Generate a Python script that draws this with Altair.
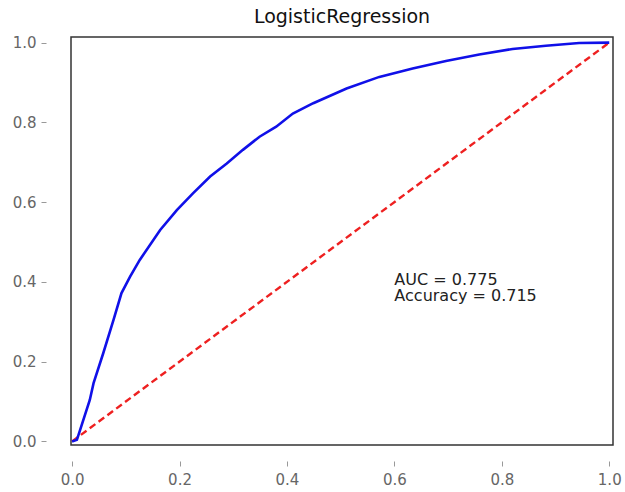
import altair as alt
import pandas as pd

# ROC curve points
fpr = [0, 0.009, 0.015, 0.033, 0.040, 0.058, 0.077, 0.092, 0.108, 0.126, 0.164,
       0.195, 0.225, 0.257, 0.288, 0.318, 0.349, 0.380, 0.411, 0.449, 0.511,
       0.572, 0.634, 0.696, 0.758, 0.820, 0.882, 0.944, 1.0]
tpr = [0, 0.004, 0.029, 0.104, 0.146, 0.221, 0.304, 0.372, 0.413, 0.455, 0.530,
       0.580, 0.622, 0.664, 0.697, 0.731, 0.764, 0.789, 0.822, 0.848, 0.885,
       0.914, 0.935, 0.954, 0.970, 0.984, 0.992, 0.999, 1.0]

diag_x = [0.0, 1.0]
diag_y = [0.0, 1.0]

ann_lines = ["AUC = 0.775", "Accuracy = 0.715"]
ann_x = [0.6]
ann_y = [0.392]

tick_vals = [0.0, 0.2, 0.4, 0.6, 0.8, 1.0]
title = "LogisticRegression"

FONT = "DejaVu Sans"

roc_df = pd.DataFrame({"fpr": fpr, "tpr": tpr, "i": list(range(len(fpr)))})
diag_df = pd.DataFrame({"fpr": diag_x, "tpr": diag_y, "i": [0, 1]})
ann_df = pd.DataFrame({"x": ann_x, "y": ann_y, "t": ["\n".join(ann_lines)]})

xscale = alt.Scale(domain=[-0.002, 1.007], nice=False, zero=False)
yscale = alt.Scale(domain=[-0.009, 1.014], nice=False, zero=False)

xaxis = alt.Axis(values=tick_vals, format=".1f", title=None, grid=False, domain=False,
                 offset=16, tickSize=5, tickColor="#999", tickWidth=1,
                 labelPadding=6, labelFontSize=15, labelColor="#666", labelFont=FONT)
yaxis = alt.Axis(values=tick_vals, format=".1f", title=None, grid=False, domain=False,
                 offset=25, tickSize=5, tickColor="#999", tickWidth=1,
                 labelPadding=5, labelFontSize=15, labelColor="#666", labelFont=FONT)

roc = alt.Chart(roc_df).mark_line(color="#1010e8", strokeWidth=2.6).encode(
    x=alt.X("fpr:Q", scale=xscale, axis=xaxis),
    y=alt.Y("tpr:Q", scale=yscale, axis=yaxis),
    order="i:Q",
)

diag = alt.Chart(diag_df).mark_line(color="#ee2020", strokeWidth=2.4, strokeDash=[7, 4]).encode(
    x=alt.X("fpr:Q", scale=xscale),
    y=alt.Y("tpr:Q", scale=yscale),
    order="i:Q",
)

ann = alt.Chart(ann_df).mark_text(align="left", baseline="alphabetic", font=FONT,
                                   fontSize=16, color="#222", lineBreak="\n",
                                   lineHeight=15.7).encode(
    x=alt.X("x:Q", scale=xscale),
    y=alt.Y("y:Q", scale=yscale),
    text="t:N",
)

chart = alt.layer(diag, roc, ann).properties(
    width=542,
    height=408,
    background="white",
    title=alt.TitleParams(title, font=FONT, fontSize=19, fontWeight="normal",
                          color="#111", anchor="middle", offset=9),
    autosize=alt.AutoSizeParams(type="none"),
    padding={"left": 71, "top": 37, "right": 12, "bottom": 47},
).configure_view(
    stroke="#333", strokeWidth=1.5
)

chart.save("out.html", embed_options={"renderer": "svg", "actions": False})
